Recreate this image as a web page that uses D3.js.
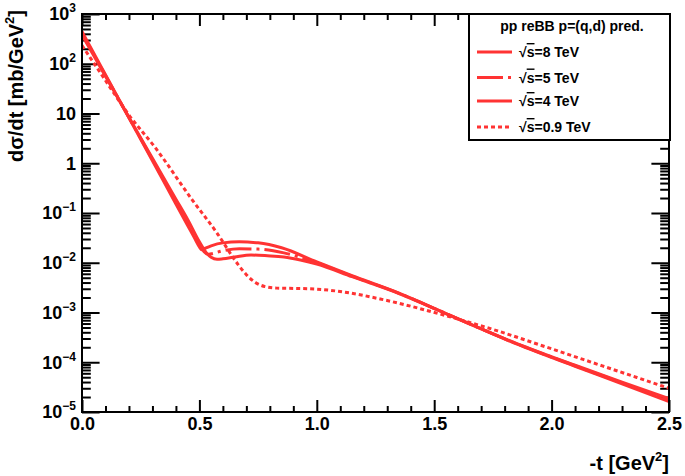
<!DOCTYPE html>
<html>
<head>
<script src="https://d3js.org/d3.v7.min.js"></script>
<style>
  body { margin: 0; background: #fff; }
  svg { font-family: "Liberation Sans", Arial, sans-serif; font-weight: bold; }
  .tick line { stroke: #000; stroke-width: 2; }
</style>
</head>
<body>
<script>
// -t [GeV^2] and dsigma/dt [mb/GeV^2]
var t8 = [0, 0.1, 0.2, 0.3, 0.4, 0.45, 0.48, 0.5, 0.51, 0.52, 0.55, 0.6, 0.67, 0.75, 0.85, 1.0, 1.15, 1.35, 1.55, 1.85, 2.1, 2.3, 2.5];
var s8 = [443, 60.3, 8.2, 1.12, 0.152, 0.0562, 0.0309, 0.0209, 0.0182, 0.0191, 0.0219, 0.0251, 0.0263, 0.0251, 0.02, 0.01035, 0.0055, 0.00245, 9.5e-4, 2.34e-4, 8.3e-5, 3.7e-5, 1.62e-5];

var t5 = [0, 0.1, 0.2, 0.3, 0.4, 0.45, 0.5, 0.52, 0.535, 0.55, 0.6, 0.67, 0.75, 0.86, 1.0, 1.15, 1.35, 1.55, 1.85, 2.1, 2.3, 2.5];
var s5 = [407, 58.2, 8.26, 1.19, 0.17, 0.0646, 0.0234, 0.0166, 0.0148, 0.0151, 0.0174, 0.0191, 0.0188, 0.0158, 0.01, 0.00537, 0.00243, 9.5e-4, 2.37e-4, 8.5e-5, 3.85e-5, 1.74e-5];

var t4 = [0, 0.1, 0.2, 0.3, 0.4, 0.45, 0.5, 0.53, 0.55, 0.575, 0.6, 0.65, 0.72, 0.79, 0.86, 0.93, 1.0, 1.15, 1.35, 1.55, 1.85, 2.1, 2.3, 2.5];
var s4 = [380, 56.2, 8.32, 1.26, 0.19, 0.0741, 0.0263, 0.0158, 0.0129, 0.01175, 0.012, 0.013, 0.0143, 0.0138, 0.013, 0.01135, 0.00944, 0.00525, 0.0024, 9.5e-4, 2.4e-4, 8.7e-5, 3.98e-5, 1.86e-5];

var t09 = [0, 0.09, 0.2, 0.31, 0.47, 0.575, 0.66, 0.7, 0.74, 0.78, 0.83, 0.9, 1.0, 1.14, 1.27, 1.555, 1.77, 1.98, 2.26, 2.5];
var s09 = [234, 54.2, 9.33, 2.12, 0.182, 0.0396, 0.00989, 0.00575, 0.00398, 0.00331, 0.00309, 0.00305, 0.00295, 0.00247, 0.00187, 8.5e-4, 4.27e-4, 2.0e-4, 7.2e-5, 3.0e-5];

var seriesNames = ["8", "5", "4", "0.9"];
var xTicks = [0, 0.5, 1, 1.5, 2, 2.5];
var xTickLabels = ["0.0", "0.5", "1.0", "1.5", "2.0", "2.5"];
var yTicks = [1e-5, 1e-4, 1e-3, 1e-2, 1e-1, 1, 10, 1e2, 1e3];
var yExp = ["\u22125", "\u22124", "\u22123", "\u22122", "\u22121", "", "", "2", "3"];

var series = [
    { name: seriesNames[0], t: t8, s: s8, dash: null },
    { name: seriesNames[1], t: t5, s: s5, dash: "26,5,3,5" },
    { name: seriesNames[2], t: t4, s: s4, dash: null },
    { name: seriesNames[3], t: t09, s: s09, dash: "4,3" }
];

var red = "#ff3333";
var pLeft = 82, pRight = 669, pTop = 14, pBottom = 412;

var svg = d3.select("body").append("svg")
    .attr("width", 685)
    .attr("height", 476);

var x = d3.scaleLinear().domain([0, 2.5]).range([pLeft, pRight]);
var y = d3.scaleLog().domain([1e-5, 1e3]).range([pBottom, pTop]);

// minor ticks
var xMinor = d3.range(0, 2.51, 0.1).filter(function (d) { return Math.abs(d * 2 - Math.round(d * 2)) > 1e-6; });
var yMinor = [];
for (var k = -5; k < 3; k++) {
    for (var m = 2; m < 10; m++) yMinor.push(m * Math.pow(10, k));
}

function noDomain(g) { g.select(".domain").remove(); }

// bottom axis
svg.append("g")
    .attr("transform", "translate(0," + pBottom + ")")
    .call(d3.axisBottom(x).tickValues(xTicks).tickSize(-12).tickPadding(5)
        .tickFormat(function (d, i) { return xTickLabels[i]; }))
    .call(noDomain)
    .selectAll("text").attr("font-size", 18).attr("font-family", null).attr("fill", "#000");
svg.append("g")
    .attr("transform", "translate(0," + pBottom + ")")
    .call(d3.axisBottom(x).tickValues(xMinor).tickSize(-6).tickFormat(""))
    .call(noDomain);

// top axis
svg.append("g")
    .attr("transform", "translate(0," + pTop + ")")
    .call(d3.axisTop(x).tickValues(xTicks).tickSize(-12).tickFormat(""))
    .call(noDomain);
svg.append("g")
    .attr("transform", "translate(0," + pTop + ")")
    .call(d3.axisTop(x).tickValues(xMinor).tickSize(-6).tickFormat(""))
    .call(noDomain);

// left axis
var yAx = svg.append("g")
    .attr("transform", "translate(" + pLeft + ",0)")
    .call(d3.axisLeft(y).tickValues(yTicks).tickSize(-17.6).tickPadding(6).tickFormat(""))
    .call(noDomain);
yAx.selectAll(".tick text")
    .attr("font-size", 18).attr("font-family", null).attr("fill", "#000")
    .each(function (d, i) {
        var el = d3.select(this);
        if (d === 1) { el.text("1"); return; }
        el.append("tspan").text("10");
        if (yExp[i] !== "") {
            el.append("tspan").attr("font-size", 12).attr("dy", -8).text(yExp[i]);
        }
    });
svg.append("g")
    .attr("transform", "translate(" + pLeft + ",0)")
    .call(d3.axisLeft(y).tickValues(yMinor).tickSize(-8.8).tickFormat(""))
    .call(noDomain);

// right axis
svg.append("g")
    .attr("transform", "translate(" + pRight + ",0)")
    .call(d3.axisRight(y).tickValues(yTicks).tickSize(-17.6).tickFormat(""))
    .call(noDomain);
svg.append("g")
    .attr("transform", "translate(" + pRight + ",0)")
    .call(d3.axisRight(y).tickValues(yMinor).tickSize(-8.8).tickFormat(""))
    .call(noDomain);

// curves
svg.append("clipPath").attr("id", "clip")
    .append("rect").attr("x", pLeft).attr("y", pTop).attr("width", pRight - pLeft).attr("height", pBottom - pTop);

var line = d3.line()
    .x(function (d) { return x(d[0]); })
    .y(function (d) { return y(d[1]); })
    .curve(d3.curveMonotoneX);

svg.append("g").attr("clip-path", "url(#clip)")
    .selectAll("path")
    .data(series)
    .enter()
    .append("path")
    .attr("d", function (d) { return line(d.t.map(function (t, i) { return [t, d.s[i]]; })); })
    .attr("fill", "none")
    .attr("stroke", red)
    .attr("stroke-width", 3)
    .attr("stroke-dasharray", function (d) { return d.dash; });

// frame
svg.append("rect")
    .attr("x", pLeft).attr("y", pTop)
    .attr("width", pRight - pLeft).attr("height", pBottom - pTop)
    .attr("fill", "none").attr("stroke", "#000").attr("stroke-width", 2);

// axis titles
var xt = svg.append("text")
    .attr("x", pRight).attr("y", 470)
    .attr("text-anchor", "end").attr("font-size", 20);
xt.append("tspan").text("-t [GeV");
xt.append("tspan").attr("font-size", 13).attr("dy", -9).text("2");
xt.append("tspan").attr("dy", 9).text("]");

var yt = svg.append("text")
    .attr("transform", "translate(23,10) rotate(-90)")
    .attr("text-anchor", "end").attr("font-size", 20);
yt.append("tspan").text("d\u03c3/dt [mb/GeV");
yt.append("tspan").attr("font-size", 13).attr("dy", -9).text("2");
yt.append("tspan").attr("dy", 9).text("]");

// legend
var lg = svg.append("g");
lg.append("rect")
    .attr("x", 469).attr("y", 14).attr("width", 201).attr("height", 126)
    .attr("fill", "#fff").attr("stroke", "#000").attr("stroke-width", 2);
lg.append("text")
    .attr("x", 572).attr("y", 31)
    .attr("text-anchor", "middle").attr("font-size", 14)
    .text("pp reBB p=(q,d) pred.");

var legY = [52, 77.5, 101, 127];
var entry = lg.selectAll(".entry")
    .data(series)
    .enter()
    .append("g")
    .attr("class", "entry")
    .attr("transform", function (d, i) { return "translate(0," + legY[i] + ")"; });
entry.append("line")
    .attr("x1", 477).attr("x2", 512)
    .attr("stroke", red).attr("stroke-width", 3)
    .attr("stroke-dasharray", function (d) { return d.dash; });
var et = entry.append("text")
    .attr("x", 519).attr("y", 5)
    .attr("font-size", 14);
et.append("tspan").text("\u221a");
et.append("tspan").style("text-decoration", "overline").text("s");
et.append("tspan").text(function (d) { return "=" + d.name + " TeV"; });
</script>
</body>
</html>
